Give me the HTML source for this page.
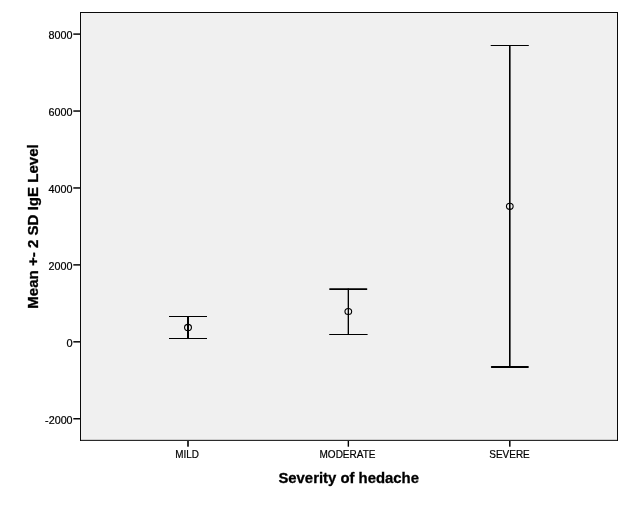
<!DOCTYPE html>
<html>
<head>
<meta charset="utf-8">
<title>Mean +- 2 SD IgE Level by Severity of hedache</title>
<style>
html,body{margin:0;padding:0;background:#fff;}
body{width:630px;height:506px;overflow:hidden;position:relative;}
svg{position:absolute;left:0;top:0;display:block;}
text{font-family:"Liberation Sans",Arial,Helvetica,sans-serif;fill:#000;}
.tick{font-size:11px;stroke:#000;stroke-width:0.22px;}
.title{font-size:15px;font-weight:bold;stroke:#000;stroke-width:0.3px;}
</style>
</head>
<body>
<svg width="630" height="506" viewBox="0 0 630 506">
  <rect x="0" y="0" width="630" height="506" fill="#ffffff"/>
  <!-- plot area -->
  <rect x="80" y="12" width="538" height="429" fill="#f0f0f0"/>
  <g fill="#0a0a0a">
    <rect x="80" y="12" width="538" height="1"/>
    <rect x="80" y="12" width="1" height="429"/>
    <rect x="617" y="12" width="1" height="429"/>
    <rect x="80" y="439.85" width="538" height="1"/>
  </g>
  <!-- y ticks -->
  <g fill="#000">
    <rect x="73.3" y="33.37" width="6.7" height="1.45"/>
    <rect x="73.3" y="110.31" width="6.7" height="1.45"/>
    <rect x="73.3" y="187.24" width="6.7" height="1.45"/>
    <rect x="73.3" y="264.16" width="6.7" height="1.45"/>
    <rect x="73.3" y="341.10" width="6.7" height="1.45"/>
    <rect x="73.3" y="418.03" width="6.7" height="1.45"/>
  </g>
  <!-- x ticks -->
  <g fill="#000">
    <rect x="187.2" y="441" width="1.6" height="5.7"/>
    <rect x="347.65" y="441" width="1.4" height="5.7"/>
    <rect x="509.05" y="441" width="1.5" height="5.7"/>
  </g>
  <!-- y tick labels -->
  <g class="tick" text-anchor="end">
    <text x="72.6" y="39" textLength="24" lengthAdjust="spacingAndGlyphs">8000</text>
    <text x="72.6" y="116" textLength="24" lengthAdjust="spacingAndGlyphs">6000</text>
    <text x="72.6" y="193" textLength="24" lengthAdjust="spacingAndGlyphs">4000</text>
    <text x="72.6" y="270" textLength="24" lengthAdjust="spacingAndGlyphs">2000</text>
    <text x="72.6" y="347">0</text>
    <text x="72.6" y="424" textLength="27.5" lengthAdjust="spacingAndGlyphs">-2000</text>
  </g>
  <!-- x tick labels -->
  <g class="tick" text-anchor="middle">
    <text x="187.1" y="458" textLength="23.6" lengthAdjust="spacingAndGlyphs">MILD</text>
    <text x="347.5" y="458" textLength="56" lengthAdjust="spacingAndGlyphs">MODERATE</text>
    <text x="509.5" y="458" textLength="40.5" lengthAdjust="spacingAndGlyphs">SEVERE</text>
  </g>
  <!-- axis titles -->
  <text class="title" x="348.7" y="483" text-anchor="middle" textLength="140.6" lengthAdjust="spacingAndGlyphs">Severity of hedache</text>
  <text class="title" transform="translate(38.1,226.5) rotate(-90) scale(1,1.03)" text-anchor="middle" textLength="164.6" lengthAdjust="spacingAndGlyphs">Mean +- 2 SD IgE Level</text>
  <!-- error bars -->
  <g fill="#000">
    <!-- MILD -->
    <rect x="187" y="316" width="2" height="23"/>
    <rect x="169" y="316" width="38" height="1"/>
    <rect x="169" y="338" width="38" height="1"/>
    <!-- MODERATE -->
    <rect x="347.65" y="288.5" width="1.35" height="46"/>
    <rect x="329.2" y="288.15" width="38.1" height="1.75" rx="0.6"/>
    <rect x="329.2" y="334" width="38.4" height="1"/>
    <!-- SEVERE -->
    <rect x="509" y="45" width="1.6" height="322.5"/>
    <rect x="490.7" y="45" width="38.1" height="1"/>
    <rect x="490.9" y="366" width="37.9" height="2" rx="0.7"/>
  </g>
  <!-- mean markers -->
  <g fill="none" stroke="#000" stroke-width="1.1">
    <ellipse cx="188" cy="327.45" rx="3.45" ry="3.1"/>
    <ellipse cx="348.3" cy="311.5" rx="3.35" ry="3.05"/>
    <ellipse cx="509.8" cy="206.3" rx="3.35" ry="3.05"/>
  </g>
</svg>
</body>
</html>
